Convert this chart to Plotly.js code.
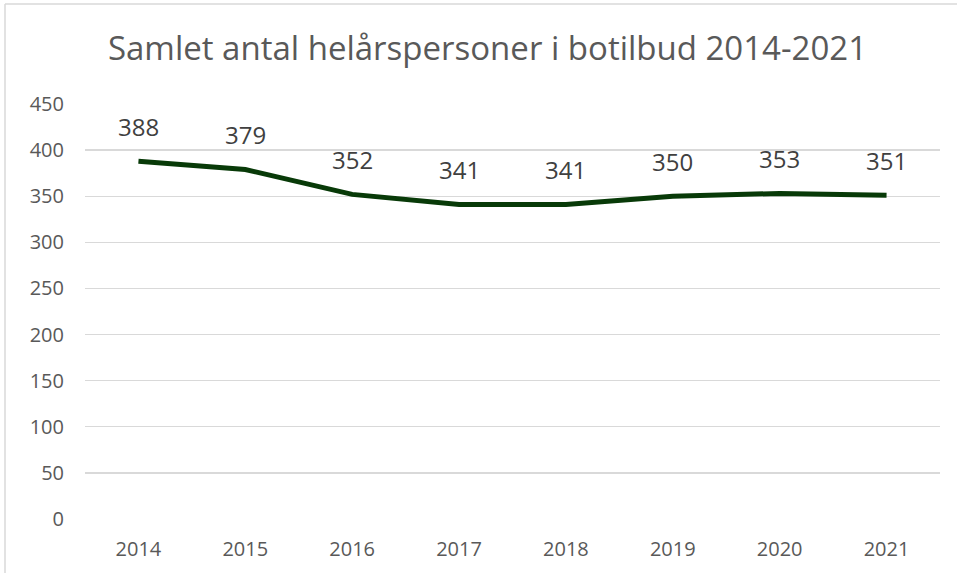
<!DOCTYPE html>
<html><head><meta charset="utf-8">
<script src="https://cdn.plot.ly/plotly-3.0.1.min.js"></script>
<style>html,body{margin:0;padding:0;background:#fff;}#c{width:957px;height:573px;}</style>
</head><body><div id="c"></div>
<script>
const years = ['2014','2015','2016','2017','2018','2019','2020','2021'];
const values = [388, 379, 352, 341, 341, 350, 353, 351];
const yTicks = [0,50,100,150,200,250,300,350,400,450];

const W = 957, L = 85, R = 17, T = 104, B = 54, H = 573;
const pw = W - L - R, ph = H - T - B;
const FONT = 'Open Sans, Liberation Sans, sans-serif';
const trace = {
  x: years, y: values, type: 'scatter', mode: 'lines',
  line: {color: '#083A08', width: 5},
  hoverinfo: 'none'
};
// category axis annotations use the category's serial index
const labels = years.map((yr, i) => ({
  x: i, y: values[i], xref: 'x', yref: 'y', text: String(values[i]),
  showarrow: false, yshift: 35, xanchor: 'center', yanchor: 'middle',
  font: {family: FONT, size: 24, color: '#404040'}
}));
const topY = (H - B - 4) / ph;
const leftX = (5 - L) / pw;
const layout = {
  width: W, height: H,
  margin: {l: L, r: R, t: T, b: B},
  paper_bgcolor: '#fff', plot_bgcolor: '#fff',
  showlegend: false,
  title: {text: 'Samlet antal helårspersoner i botilbud 2014-2021', x: 487.5 / W, xanchor: 'center', y: 1 - 48 / H, yanchor: 'middle',
    font: {family: FONT, size: 33, color: '#595959'}},
  xaxis: {type: 'category', range: [-0.5, 7.5], showgrid: false, zeroline: false, showline: false, ticks: '',
    ticklabelstandoff: 16,
    tickfont: {family: FONT, size: 20, color: '#595959'}},
  yaxis: {range: [0, 450], tickvals: yTicks, showgrid: true, gridcolor: '#d9d9d9', gridwidth: 1.3,
    zeroline: false, showline: false, ticks: '', ticklabelstandoff: 20,
    tickfont: {family: FONT, size: 20, color: '#595959'}},
  annotations: labels,
  shapes: [
    {type: 'line', xref: 'paper', yref: 'paper', x0: leftX, x1: leftX, y0: -1, y1: topY, line: {color: '#d9d9d9', width: 1.5}},
    {type: 'line', xref: 'paper', yref: 'paper', x0: leftX, x1: (W - L) / pw, y0: topY, y1: topY, line: {color: '#d9d9d9', width: 1.5}}
  ]
};
Plotly.newPlot('c', [trace], layout, {staticPlot: true, displayModeBar: false});
</script></body></html>
